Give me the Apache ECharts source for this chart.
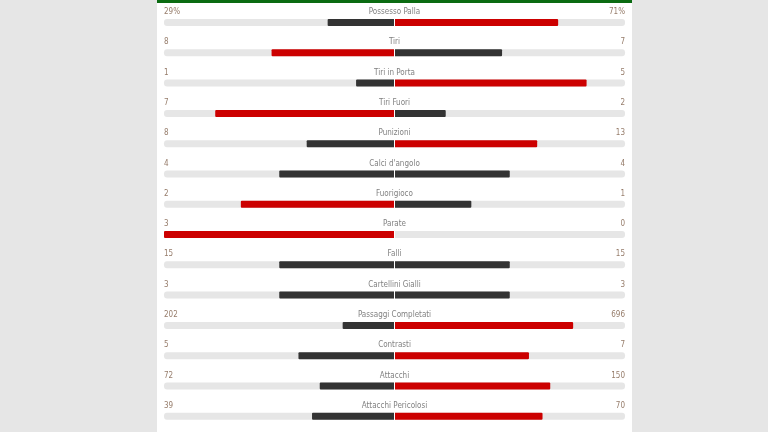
<!DOCTYPE html>
<html lang="it">
    <head>
        <meta charset="UTF-8" />
        <title>Statistiche partita</title>
        <script src="https://cdn.jsdelivr.net/npm/echarts@6.0.0/dist/echarts.min.js"></script>
        <style>
            html, body { margin: 0; padding: 0; background: #e6e6e6; }
        </style>
    </head>
    <body>
        <!-- Chart container -->
        <div id="main" style="width: 768px; height: 432px"></div>

        <script>
            // Match stats (home = left, away = right)
            const statNames = [
                "Possesso Palla", "Tiri", "Tiri in Porta", "Tiri Fuori", "Punizioni",
                "Calci d'angolo", "Fuorigioco", "Parate", "Falli", "Cartellini Gialli",
                "Passaggi Completati", "Contrasti", "Attacchi", "Attacchi Pericolosi"
            ];
            const homeValues = [29, 8, 1, 7, 8, 4, 2, 3, 15, 3, 202, 5, 72, 39];
            const awayValues = [71, 7, 5, 2, 13, 4, 1, 0, 15, 3, 696, 7, 150, 70];
            const valueSuffix = ["%", "", "", "", "", "", "", "", "", "", "", "", "", ""];

            const RED = "#cc0000";
            const DARK = "#333333";
            const TRACK = "#e6e6e6";
            const FONT = "DejaVu Sans Condensed, DejaVu Sans, sans-serif";

            let myChart = echarts.init(document.getElementById("main"));

            // share of each side, left side drawn as negative
            const leftData = homeValues.map((h, i) => {
                const a = awayValues[i];
                const tot = h + a;
                return {
                    value: tot ? -h / tot : 0,
                    itemStyle: { color: h > a ? RED : DARK }
                };
            });
            const rightData = awayValues.map((a, i) => {
                const h = homeValues[i];
                const tot = h + a;
                return {
                    value: tot ? a / tot : 0,
                    itemStyle: { color: a > h ? RED : DARK }
                };
            });

            const textLabel = (align, color) => ({
                show: true,
                position: "inside",
                align: align,
                verticalAlign: "middle",
                offset: [0, -10.5],
                fontFamily: FONT,
                fontSize: 8,
                color: color
            });

            let options = {
                backgroundColor: "#e6e6e6",
                animation: false,
                graphic: [
                    { type: "rect", left: 157, top: 0, shape: { width: 475, height: 432 }, style: { fill: "#ffffff" }, z: -10 },
                    { type: "rect", left: 157, top: 0, shape: { width: 475, height: 3 }, style: { fill: "#0b6b12" }, z: 10 }
                ],
                grid: { left: 164, right: 143, top: 7.4, bottom: 0.6 },
                xAxis: { type: "value", min: -1, max: 1, show: false },
                yAxis: {
                    type: "category",
                    inverse: true,
                    data: statNames,
                    show: false
                },
                series: [
                    {
                        name: "trackL", type: "bar", silent: true,
                        barWidth: 7, barGap: "-100%",
                        data: statNames.map(() => -1),
                        itemStyle: { color: TRACK, borderRadius: [3, 0, 0, 3] }
                    },
                    {
                        name: "trackR", type: "bar", silent: true,
                        barWidth: 7, barGap: "-100%",
                        data: statNames.map(() => 1),
                        itemStyle: { color: TRACK, borderRadius: [0, 3, 3, 0] }
                    },
                    {
                        name: "home", type: "bar", silent: true,
                        barWidth: 7, barGap: "-100%",
                        data: leftData,
                        itemStyle: { borderRadius: [1, 0, 0, 1] }
                    },
                    {
                        name: "away", type: "bar", silent: true,
                        barWidth: 7, barGap: "-100%",
                        data: rightData,
                        itemStyle: { borderRadius: [0, 1, 1, 0] },
                        // thin white split in the middle
                        markLine: {
                            silent: true, symbol: "none", label: { show: false }, z: 5,
                            lineStyle: { color: "#ffffff", width: 1, type: "solid" },
                            data: [{ xAxis: 0 }]
                        }
                    },
                    {
                        name: "names", type: "scatter", symbolSize: 0, silent: true, z: 10,
                        data: statNames.map((n, i) => [0, i]),
                        label: Object.assign(textLabel("center", "#606060"), {
                            formatter: (p) => statNames[p.dataIndex]
                        })
                    },
                    {
                        name: "homeText", type: "scatter", symbolSize: 0, silent: true, z: 10,
                        data: homeValues.map((v, i) => [-1, i]),
                        label: Object.assign(textLabel("left", "#7a5a44"), {
                            formatter: (p) => homeValues[p.dataIndex] + valueSuffix[p.dataIndex]
                        })
                    },
                    {
                        name: "awayText", type: "scatter", symbolSize: 0, silent: true, z: 10,
                        data: awayValues.map((v, i) => [1, i]),
                        label: Object.assign(textLabel("right", "#7a5a44"), {
                            formatter: (p) => awayValues[p.dataIndex] + valueSuffix[p.dataIndex]
                        })
                    }
                ]
            };

            myChart.setOption(options);
        </script>
    </body>
</html>
